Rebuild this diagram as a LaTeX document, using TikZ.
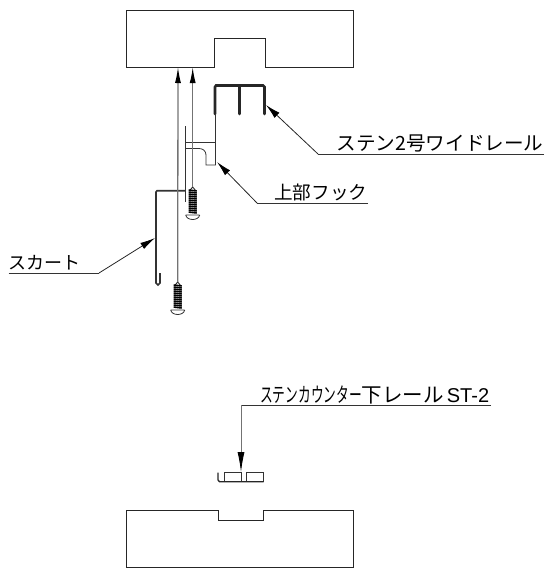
\documentclass[tikz,border=0pt]{standalone}
\usepackage{fontspec}
\usetikzlibrary{arrows.meta}
\newfontfamily\jpfont{Noto Sans CJK JP}
\setmainfont{Liberation Sans}
\newcommand{\screw}[3]{% x, y of the tip, name
    \coordinate (#3) at (#1, #2);
    \draw[thick line] (#1-2.5, #2+3) -- (#1, #2) -- (#1+2.5, #2+3);
    \foreach \t in {0,2,...,22}
        \draw[thread line] (#1-4, #2+3+\t) -- (#1+4, #2+4+\t);
    \draw[thin line] (#1-7, #2+28) -- (#1+7, #2+28) (#1-7, #2+28) .. controls (#1-6, #2+34) and (#1+6, #2+34) .. (#1+7, #2+28);
}
\tikzset{
    thin line/.style={line width=0.8pt, black!80},
    thick line/.style={line width=0.9pt, black!85},
    rail line/.style={line width=2.6pt, black!85, line cap=round},
    thread line/.style={line width=1.6pt, black},
    leader/.style={line width=0.8pt, black!85, -{Latex[length=15pt, width=7pt, black]}},
    mount leader/.style={line width=1.3pt, black!55, -{Latex[length=16pt, width=6pt, black]}},
    plain leader/.style={line width=0.9pt, black!80},
    jp label/.style={inner sep=0pt, anchor=base west, font=\jpfont}
}
\begin{document}
\begin{tikzpicture}[x=1pt, y=-1pt]
    \useasboundingbox (0, 0) rectangle (545, 568);

    % top block
    \draw[thick line] (126, 10) -- (353, 10) -- (353, 67) -- (265, 67) -- (265, 38) -- (214, 38) -- (214, 67) -- (126, 67) -- cycle;
    % bottom block
    \draw[thick line] (126, 567) -- (126, 510.5) -- (218, 510.5) -- (218, 520) -- (263.5, 520) -- (263.5, 510.5) -- (353, 510.5) -- (353, 567) -- cycle;

    % wide rail
    \draw[rail line] (215, 114) -- (215, 87) -- (216, 85.5) -- (263, 85.5) -- (264.5, 87) -- (264.5, 114);
    \draw[rail line] (239.5, 85.5) -- (239.5, 114);
    % hook
    \draw[thin line] (215.5, 114) -- (215.5, 165) -- (206, 165) -- (206, 155) .. controls (206, 151) and (203, 148.5) .. (199, 148.5) -- (185, 148.5);
    \draw[thin line] (185, 142.7) -- (215.5, 142.7);
    \draw[thin line] (185, 126) -- (185, 201.5);
    % skirt
    \draw[line width=1.6pt, black!80] (185, 190.7) -- (157, 190.7) -- (156, 192) -- (156, 283) -- (158, 285) -- (160, 283) -- (160, 273);
    % screws
    \screw{192.7}{187}{screwa}
    \screw{177.7}{282}{screwb}

    % mounting arrows
    \coordinate (blocka) at (178, 67);
    \coordinate (blockb) at (192.7, 67);
    \draw[mount leader] (screwb) -- (blocka);
    \draw[mount leader] (screwa) -- (blockb);

    % labels
    \node[jp label] (rail) at (336.5, 150) {\fontsize{19.6}{19.6}\selectfont ステン2号ワイドレール};
    \node[jp label] (hook) at (274, 199) {\fontsize{18.6}{18.6}\selectfont 上部フック};
    \node[jp label] (skirt) at (8, 269.5) {\fontsize{18}{18}\selectfont スカート};
    \node[jp label] (lower) at (260, 402) {\fontsize{20.5}{20.5}\selectfont \scalebox{0.62}[1]{ステンカウンター}下レール\hspace{3pt}\rmfamily\fontsize{20}{20}\selectfont ST-2};

    \coordinate (railend) at (544, 154);
    \coordinate (railknee) at (318, 154);
    \coordinate (railtip) at (266, 105);
    \draw[plain leader] (railend) -- (railknee);
    \draw[leader] (railknee) -- (railtip);

    \coordinate (hookend) at (368, 203);
    \coordinate (hookknee) at (257, 203);
    \coordinate (hooktip) at (217, 162);
    \draw[plain leader] (hookend) -- (hookknee);
    \draw[leader] (hookknee) -- (hooktip);

    \coordinate (skirtend) at (8.5, 273);
    \coordinate (skirtknee) at (99, 273);
    \coordinate (skirttip) at (155, 238);
    \draw[plain leader] (skirtend) -- (skirtknee);
    \draw[leader] (skirtknee) -- (skirttip);

    \coordinate (lowerend) at (491, 405);
    \coordinate (lowerknee) at (241, 405);
    \coordinate (lowertip) at (241, 472);
    \draw[plain leader] (lowerend) -- (lowerknee);
    \draw[mount leader, line width=0.9pt, -{Latex[length=20pt, width=7pt, black]}] (lowerknee) -- (lowertip);

    % lower rail
    \draw[thin line] (224.3, 472.7) rectangle (241, 481.5);
    \draw[thin line] (246.7, 472.7) rectangle (263.7, 481.5);
    \draw[line width=1.3pt, black!85] (218, 472.7) -- (218, 480) -- (219.5, 481.7) -- (263.7, 481.7);
\end{tikzpicture}
\end{document}
